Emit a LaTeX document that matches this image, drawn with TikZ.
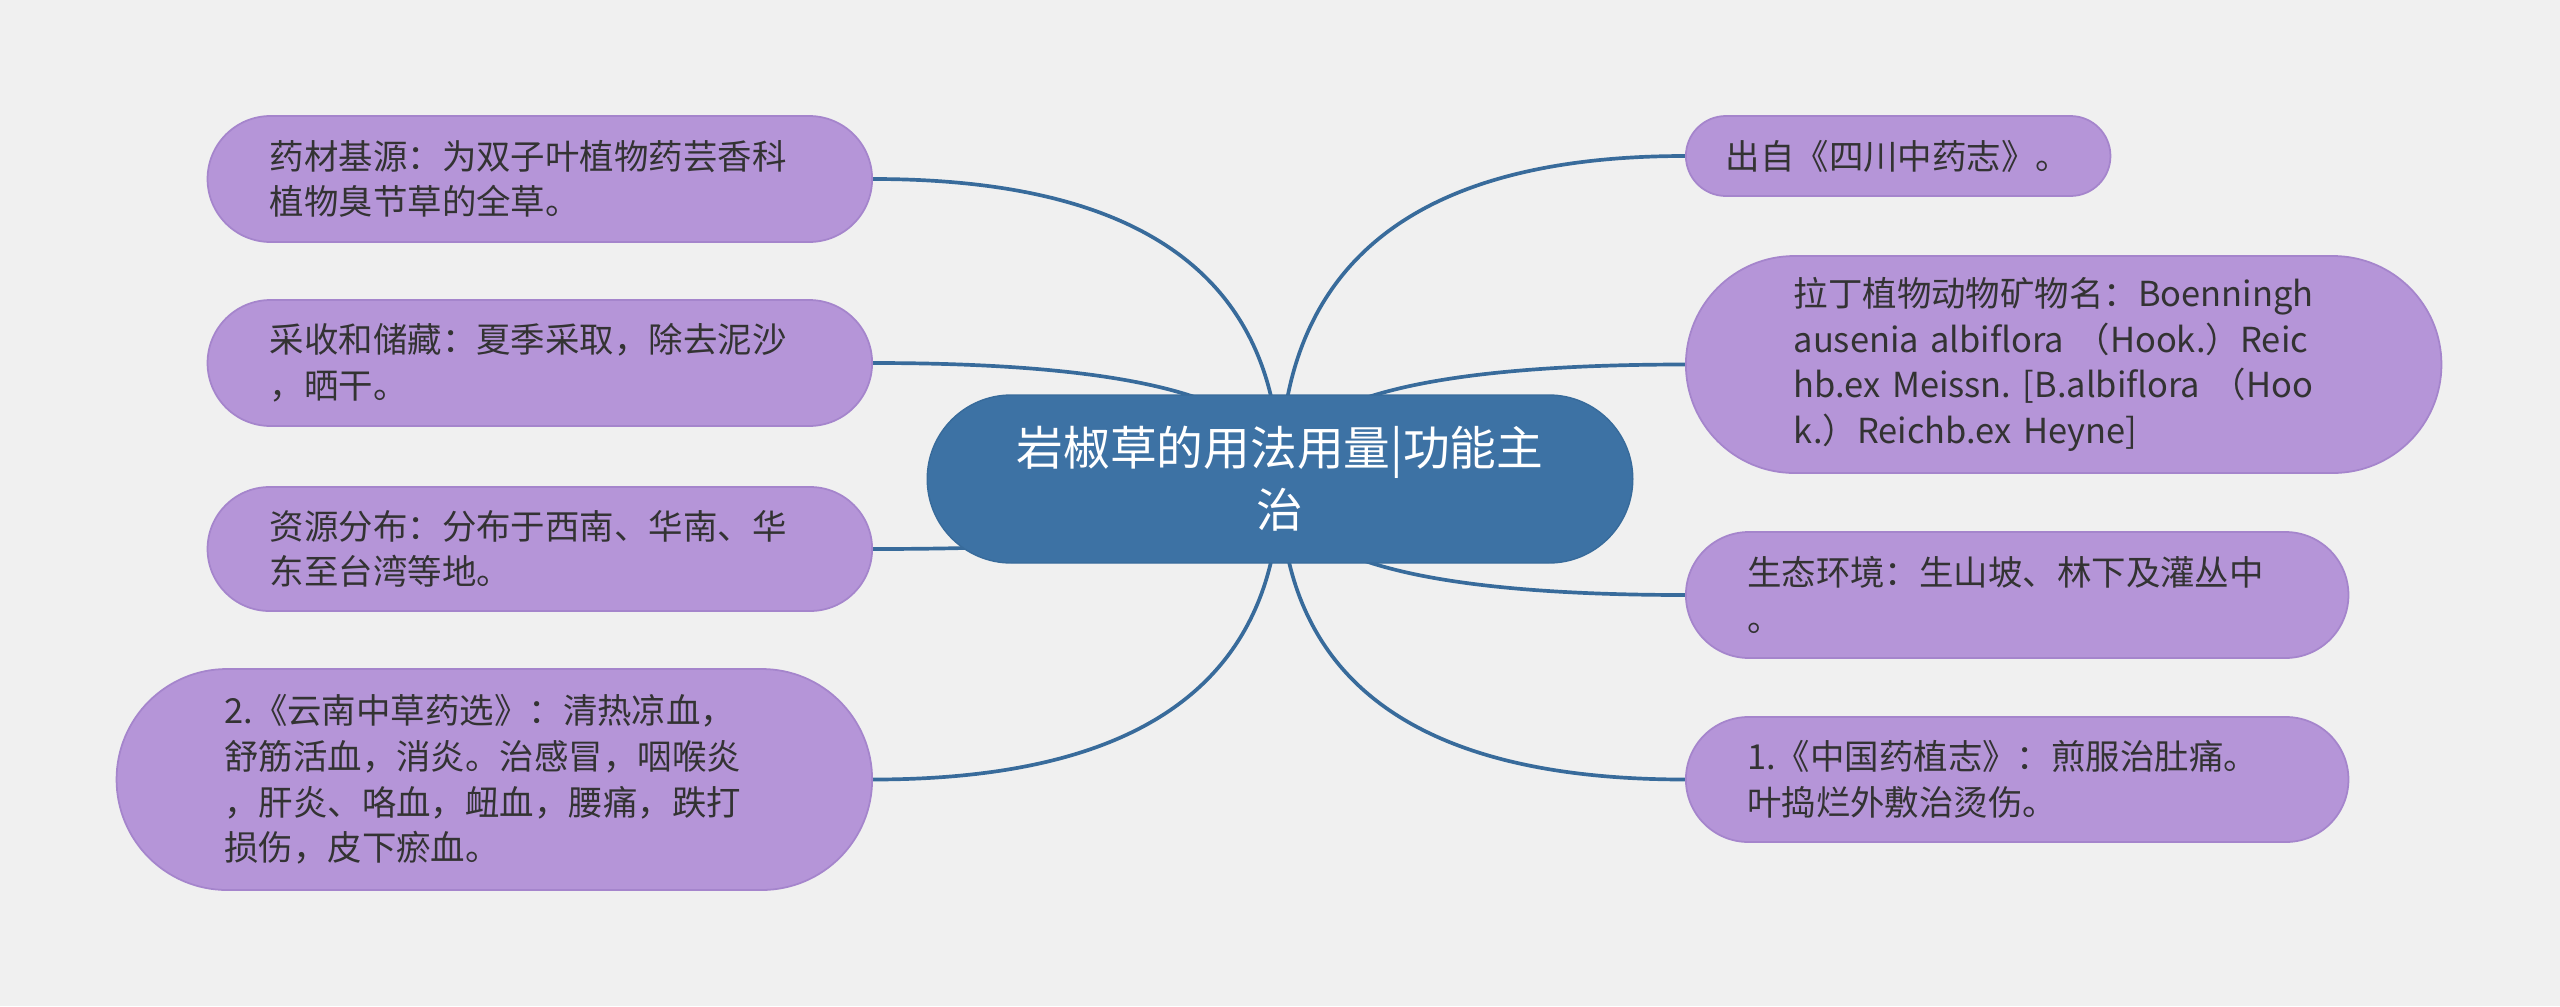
\documentclass[tikz,border=0pt]{standalone}
\usepackage{fontspec}
\setmainfont{Noto Sans CJK SC}
\usepackage{tikz}
\usetikzlibrary{positioning, shapes.misc, calc, backgrounds}
\frenchspacing
\definecolor{bggray}{HTML}{F0F0F0}
\definecolor{leafpurple}{HTML}{B595D8}
\definecolor{leafline}{HTML}{A585CC}
\definecolor{topicblue}{HTML}{3D72A4}
\definecolor{linkblue}{HTML}{386B9B}
\definecolor{inkgray}{HTML}{333333}
\tikzset{
  topic/.style={
    draw=linkblue, rounded rectangle, fill=topicblue,
    minimum width=7.29cm, minimum height=1.68cm,
    text=white, font=\fontsize{13.3pt}{17.6pt}\selectfont, align=center
  },
  leaf/.style={
    draw=leafline, rounded rectangle, fill=leafpurple,
    minimum height=1.26cm, line width=0.5pt, text width=5.4cm,
    text=inkgray, font=\fontsize{9.8pt}{13pt}\selectfont, align=left
  },
  link/.style={draw=linkblue, line width=1.05pt},
}

\begin{document}
\begin{tikzpicture}
  \useasboundingbox (0,0) rectangle (25.6,10.06);
  \node[topic] (root) at (12.80, 5.27) {岩椒草的用法用量|功能主\\治};
  % left side
  \node[leaf, minimum width=6.88cm, anchor=east] (l1) at (8.73, 8.27)
    {药材基源：为双子叶植物药芸香科\\植物臭节草的全草。};
  \node[leaf, minimum width=6.88cm, anchor=east] (l2) at (8.73, 6.43)
    {采收和储藏：夏季采取，除去泥沙\\，晒干。};
  \node[leaf, minimum width=6.88cm, minimum height=1.24cm, anchor=east] (l3) at (8.73, 4.57)
    {资源分布：分布于西南、华南、华\\东至台湾等地。};
  \node[leaf, minimum width=7.79cm, minimum height=2.21cm, anchor=east] (l4) at (8.73, 2.265)
    {2.《云南中草药选》：清热凉血，\\舒筋活血，消炎。治感冒，咽喉炎\\，肝炎、咯血，衄血，腰痛，跌打\\损伤，皮下瘀血。};
  % right side
  \node[leaf, minimum width=4.48cm, minimum height=0.80cm, text width=3.45cm, anchor=west] (r1) at (16.85, 8.50)
    {出自《四川中药志》。};
  \node[leaf, minimum width=7.79cm, minimum height=2.17cm, anchor=west] (r2) at (16.85, 6.415)
    {拉丁植物动物矿物名：Boenningh\\ausenia albiflora （Hook.）Reic\\hb.ex Meissn. [B.albiflora （Hoo\\k.）Reichb.ex Heyne]};
  \node[leaf, minimum width=6.86cm, anchor=west] (r3) at (16.85, 4.11)
    {生态环境：生山坡、林下及灌丛中\\。};
  \node[leaf, minimum width=6.86cm, minimum height=1.25cm, anchor=west] (r4) at (16.85, 2.265)
    {1.《中国药植志》：煎服治肚痛。\\叶捣烂外敷治烫伤。};
  \begin{scope}[on background layer]
    \fill[bggray] (0,0) rectangle (25.6,10.06);
    \foreach \leaf/\side in {l1/east, l2/east, l3/east, l4/east,
                             r1/west, r2/west, r3/west, r4/west}{
      \coordinate (k\leaf) at (root.center |- \leaf.\side);
      \draw[link] (root.center)
        .. controls ($(root.center)!0.667!(k\leaf)$)
        and ($(\leaf.\side)!0.667!(k\leaf)$) .. (\leaf.\side);
    }
  \end{scope}
\end{tikzpicture}
\end{document}
